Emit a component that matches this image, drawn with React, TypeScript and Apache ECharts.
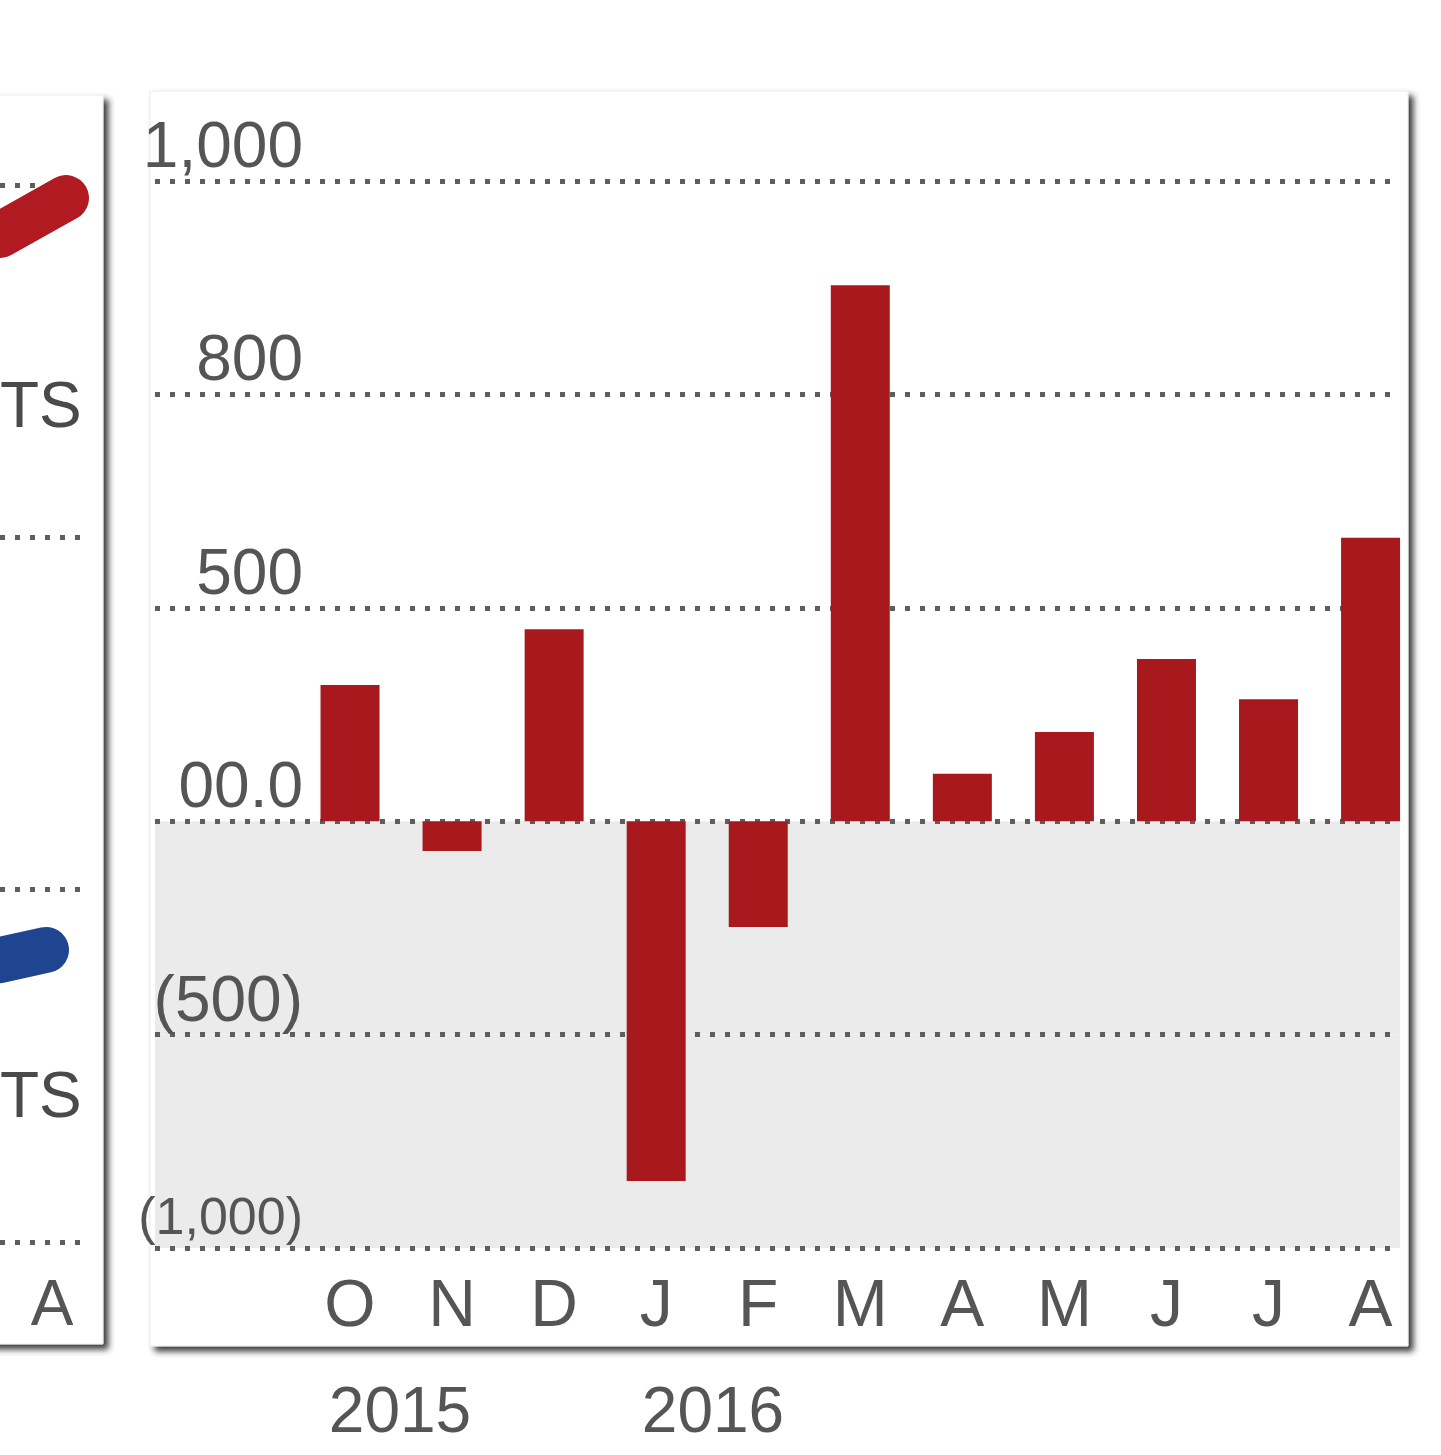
import React, { useEffect, useRef } from 'react';
import * as echarts from 'echarts';

// ---- data ----
const months = ['O', 'N', 'D', 'J', 'F', 'M', 'A', 'M', 'J', 'J', 'A'];
const netValues = [319, -70, 450, -843, -248, 1256, 111, 209, 380, 286, 664];
const yTickValues = [-1000, -500, 0, 500, 1000, 1500];
const yTickLabels = ['(1,000)', '(500)', '00.0', '500', '800', '1,000'];
const yearLabels = ['2015', '2016'];
// left (cropped) companion panel
const leftRedLine = [[0, 2.858], [0.733, 2.963]];
const leftBlueLine = [[0, 0.8], [0.511, 0.829]];
const leftAxisTickValues = [0.58];
const leftAxisTickLabels = ['A'];
const leftSeriesTails = ['TS', 'TS'];

const FONT = "'Liberation Sans', Arial, Helvetica, sans-serif";
const TEXT = '#555555';
const GRIDLINE = { color: '#5e5e5e', width: 5, type: [5, 10] as number[] };

export default function App() {
  const ref = useRef<HTMLDivElement>(null);

  useEffect(() => {
    document.body.style.margin = '0';
    document.body.style.overflow = 'hidden';
    if (!ref.current) return;
    const chart = echarts.init(ref.current, undefined, { renderer: 'svg' });

    const cardShadow = {
      fill: '#ffffff',
      stroke: '#ececec',
      lineWidth: 1,
      shadowBlur: 6,
      shadowOffsetX: 5,
      shadowOffsetY: 5,
      shadowColor: 'rgba(40,40,40,0.9)',
    };

    const labelText = (text: string, x: number, y: number, align: string, fill: string) => ({
      type: 'text',
      z: 10,
      x,
      y,
      style: { text, fontSize: 64, fontFamily: FONT, fill, align, verticalAlign: 'top' },
    });

    const option: any = {
      animation: false,
      backgroundColor: '#ffffff',
      graphic: [
        { type: 'rect', z: -10, shape: { x: -30, y: 95, width: 133, height: 1249 }, style: cardShadow },
        { type: 'rect', z: -10, shape: { x: 150, y: 91, width: 1258, height: 1255 }, style: cardShadow },
        labelText(leftSeriesTails[0], 0, 373, 'left', '#4a4a4a'),
        labelText(leftSeriesTails[1], 0, 1063, 'left', '#4a4a4a'),
        labelText(yearLabels[0], 400, 1378, 'center', TEXT),
        labelText(yearLabels[1], 713, 1378, 'center', TEXT),
      ],
      grid: [
        { left: 155, right: 41, top: 181, height: 1067 },
        { left: 299, right: 19.4, top: 181, height: 1067 },
        { left: 0, width: 90, top: 185, height: 1057 },
      ],
      xAxis: [
        { gridIndex: 0, type: 'value', min: 0, max: 1, show: false },
        {
          gridIndex: 1,
          type: 'category',
          data: months,
          axisLine: { show: false },
          axisTick: { show: false },
          splitLine: { show: false },
          axisLabel: { fontSize: 66, fontFamily: FONT, color: TEXT, margin: 22 },
        },
        {
          gridIndex: 2,
          type: 'value',
          min: 0,
          max: 1,
          axisLine: { show: false },
          axisTick: { show: false },
          splitLine: { show: false },
          axisLabel: {
            customValues: leftAxisTickValues,
            fontSize: 64,
            fontFamily: FONT,
            color: TEXT,
            margin: 29,
            formatter: (v: number) => {
              const i = leftAxisTickValues.findIndex((t) => Math.abs(t - v) < 1e-6);
              return i >= 0 ? leftAxisTickLabels[i] : '';
            },
          },
        },
      ],
      yAxis: [
        {
          gridIndex: 0,
          type: 'value',
          min: -1000,
          max: 1500,
          interval: 500,
          axisLine: { show: false },
          axisTick: { show: false },
          splitLine: { show: true, lineStyle: GRIDLINE },
          splitArea: {
            show: true,
            areaStyle: {
              color: ['#ebebeb', '#ebebeb', 'rgba(255,255,255,0)', 'rgba(255,255,255,0)', 'rgba(255,255,255,0)'],
            },
          },
          axisLabel: {
            margin: -148,
            align: 'right',
            verticalAlign: 'bottom',
            padding: [0, 0, 4, 0],
            fontSize: 64,
            fontFamily: FONT,
            color: TEXT,
            formatter: (v: number) => {
              const i = yTickValues.indexOf(v);
              if (i < 0) return '';
              return i === 0 ? '{n|' + yTickLabels[i] + '}' : yTickLabels[i];
            },
            rich: {
              n: { fontSize: 52, fontFamily: FONT, color: TEXT, padding: [0, 0, 2, 0] },
            },
          },
        },
        { gridIndex: 1, type: 'value', min: -1000, max: 1500, interval: 500, show: false, splitLine: { show: false } },
        {
          gridIndex: 2,
          type: 'value',
          min: 0,
          max: 3,
          interval: 1,
          axisLine: { show: false },
          axisTick: { show: false },
          axisLabel: { show: false },
          splitLine: { show: true, lineStyle: GRIDLINE },
        },
      ],
      series: [
        { type: 'line', xAxisIndex: 0, yAxisIndex: 0, data: [], silent: true },
        {
          type: 'bar',
          xAxisIndex: 1,
          yAxisIndex: 1,
          data: netValues,
          barWidth: 59,
          itemStyle: { color: '#a8191d' },
          z: 3,
        },
        {
          type: 'line',
          xAxisIndex: 2,
          yAxisIndex: 2,
          data: leftRedLine,
          symbol: 'none',
          clip: false,
          z: 3,
          lineStyle: { color: '#b01a20', width: 46, cap: 'round' },
        },
        {
          type: 'line',
          xAxisIndex: 2,
          yAxisIndex: 2,
          data: leftBlueLine,
          symbol: 'none',
          clip: false,
          z: 3,
          lineStyle: { color: '#1f4591', width: 46, cap: 'round' },
        },
      ],
    };

    chart.setOption(option);
    return () => chart.dispose();
  }, []);

  return <div ref={ref} style={{ width: 1441, height: 1455 }} />;
}
